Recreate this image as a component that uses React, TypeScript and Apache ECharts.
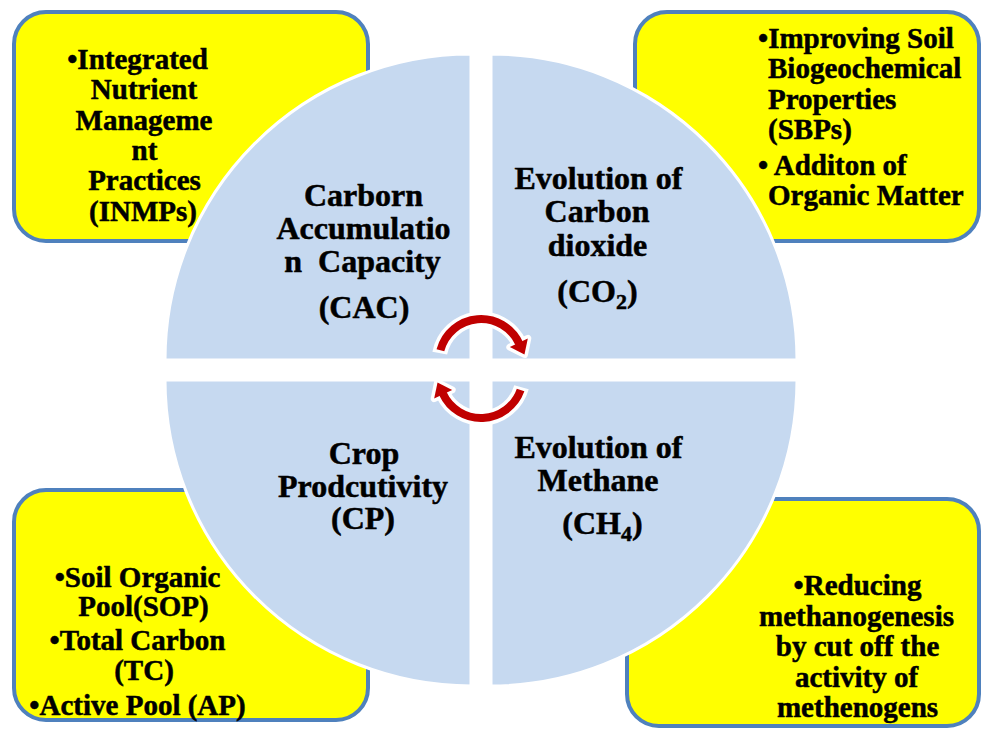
import React, { useEffect, useRef } from "react";
import * as echarts from "echarts";

// ---------- texts ----------
const inmpLines = ["•Integrated", "Nutrient", "Manageme", "nt", "Practices", "(INMPs)"];
const sbpLines = ["•Improving Soil", "Biogeochemical", "Properties", "(SBPs)", "• Additon of", "Organic Matter"];
const sopLines = ["•Soil Organic", "Pool(SOP)", "•Total Carbon", "(TC)", "•Active Pool (AP)"];
const methLines = ["•Reducing", "methanogenesis", "by cut off the", "activity of", "methenogens"];
const cacLines = ["Carborn", "Accumulatio", "n  Capacity", "(CAC)"];
const co2Lines = ["Evolution of", "Carbon", "dioxide"];
const co2Formula = ["(CO", "2", ")"];
const cpLines = ["Crop", "Prodcutivity", "(CP)"];
const ch4Lines = ["Evolution of", "Methane"];
const ch4Formula = ["(CH", "4", ")"];

// ---------- layout ----------
const FONT = "Liberation Serif, Times New Roman, serif";
const BOX_FS = 29;
const QUAD_FS = 32;
const SUB_FS = 22;
const YELLOW = "#ffff00";
const BORDER = "#4f81bd";
const QUAD = "#c6d9f0";
const RED = "#c00000";

const boxRects = [
  { x: 14, y: 12, w: 354, h: 229 },
  { x: 635, y: 12, w: 344, h: 229 },
  { x: 14, y: 490, w: 354, h: 230 },
  { x: 627, y: 499, w: 352, h: 227 },
];

const R = 306;
const quadDefs = [
  { cx: 471, cy: 360, a0: Math.PI, a1: Math.PI * 1.5 },
  { cx: 491, cy: 360, a0: Math.PI * 1.5, a1: Math.PI * 2 },
  { cx: 491, cy: 380, a0: 0, a1: Math.PI * 0.5 },
  { cx: 471, cy: 380, a0: Math.PI * 0.5, a1: Math.PI },
];

const blocks = [
  { lines: inmpLines, xs: [137.5, 144, 144, 144.5, 144.5, 143], bl: [68.5, 99, 129.5, 159.5, 190, 220.5], fs: BOX_FS, align: "center" },
  { lines: sbpLines, xs: [758, 768, 768, 768, 758, 768], bl: [47.5, 78, 108.5, 139, 174.5, 205], fs: BOX_FS, align: "left" },
  { lines: sopLines, xs: [137.5, 143.5, 137.5, 144, 137.5], bl: [586.5, 616, 650, 680, 714.5], fs: BOX_FS, align: "center" },
  { lines: methLines, xs: [857.5, 856.5, 857.5, 856.5, 857.5], bl: [595, 625.5, 656, 686.5, 717], fs: BOX_FS, align: "center" },
  { lines: cacLines, xs: [363.5, 363.5, 362.5, 364], bl: [206, 239, 272, 318], fs: QUAD_FS, align: "center" },
  { lines: co2Lines, xs: [598.5, 597, 597.5], bl: [189, 222, 255.5], fs: QUAD_FS, align: "center" },
  { lines: cpLines, xs: [364, 363, 363], bl: [464, 497, 529], fs: QUAD_FS, align: "center" },
  { lines: ch4Lines, xs: [598.5, 598], bl: [458, 491], fs: QUAD_FS, align: "center" },
];

const formulas = [
  { parts: co2Formula, cx: 597.5, bl: 302, subDrop: 7 },
  { parts: ch4Formula, cx: 602.5, bl: 534, subDrop: 7 },
];

const arrows = [
  { cx: 481, cy: 361, r: 42, start: Math.PI + 0.26, end: Math.PI * 2 - 0.45 },
  { cx: 481, cy: 376, r: 42, start: 0.34, end: Math.PI - 0.45 },
];

function headPoints(cx: number, cy: number, r: number, phi: number) {
  const px = cx + r * Math.cos(phi);
  const py = cy + r * Math.sin(phi);
  const nx = Math.cos(phi), ny = Math.sin(phi);
  const tx = -Math.sin(phi), ty = Math.cos(phi);
  const hw = 10, len = 13;
  return [
    [px + nx * hw, py + ny * hw],
    [px + tx * len, py + ty * len],
    [px - nx * hw, py - ny * hw],
  ];
}

let measureCtx: CanvasRenderingContext2D | null = null;
function measure(text: string, fs: number) {
  if (!measureCtx) measureCtx = document.createElement("canvas").getContext("2d");
  if (!measureCtx) return text.length * fs * 0.5;
  measureCtx.font = `bold ${fs}px ${FONT}`;
  return measureCtx.measureText(text).width;
}

function textEl(text: string, x: number, baseline: number, fs: number, align: string) {
  return {
    type: "text",
    z: 5,
    x,
    y: baseline - fs * 0.33,
    style: {
      text,
      fill: "#000000",
      stroke: "#000000",
      lineWidth: 0.5,
      fontSize: fs,
      fontWeight: "bold",
      fontFamily: FONT,
      textAlign: align,
      align,
      textVerticalAlign: "middle",
      verticalAlign: "middle",
    },
  };
}

function buildGraphic() {
  const els: any[] = [];
  boxRects.forEach((b) => {
    els.push({
      type: "rect",
      z: 1,
      shape: { x: b.x, y: b.y, width: b.w, height: b.h, r: 32 },
      style: { fill: YELLOW, stroke: BORDER, lineWidth: 4 },
    });
  });
  quadDefs.forEach((q) => {
    els.push({
      type: "sector",
      z: 2,
      shape: { cx: q.cx, cy: q.cy, r0: 0, r: R, startAngle: q.a0, endAngle: q.a1, clockwise: true },
      style: { fill: QUAD, stroke: "#ffffff", lineWidth: 3 },
    });
  });
  blocks.forEach((blk) => {
    blk.lines.forEach((t, i) => {
      els.push(textEl(t, blk.xs[i], blk.bl[i], blk.fs, blk.align));
    });
  });
  formulas.forEach((f) => {
    const w0 = measure(f.parts[0], QUAD_FS);
    const w1 = measure(f.parts[1], SUB_FS);
    const w2 = measure(f.parts[2], QUAD_FS);
    let x = f.cx - (w0 + w1 + w2) / 2;
    els.push(textEl(f.parts[0], x, f.bl, QUAD_FS, "left"));
    x += w0;
    els.push(textEl(f.parts[1], x, f.bl + f.subDrop, SUB_FS, "left"));
    x += w1;
    els.push(textEl(f.parts[2], x, f.bl, QUAD_FS, "left"));
  });
  arrows.forEach((a) => {
    els.push({
      type: "arc",
      z: 6,
      shape: { cx: a.cx, cy: a.cy, r: a.r, startAngle: a.start - 0.07, endAngle: a.end, clockwise: true },
      style: { fill: null, stroke: "#ffffff", lineWidth: 15 },
    });
    els.push({
      type: "polygon",
      z: 6,
      shape: { points: headPoints(a.cx, a.cy, a.r, a.end) },
      style: { fill: "#ffffff", stroke: "#ffffff", lineWidth: 7, lineJoin: "round" },
    });
    els.push({
      type: "arc",
      z: 7,
      shape: { cx: a.cx, cy: a.cy, r: a.r, startAngle: a.start, endAngle: a.end + 0.02, clockwise: true },
      style: { fill: null, stroke: RED, lineWidth: 8 },
    });
    els.push({
      type: "polygon",
      z: 7,
      shape: { points: headPoints(a.cx, a.cy, a.r, a.end) },
      style: { fill: RED },
    });
  });
  return els;
}

export default function App() {
  const ref = useRef<HTMLDivElement>(null);
  useEffect(() => {
    document.body.style.margin = "0";
    if (!ref.current) return;
    const chart = echarts.init(ref.current, undefined, { renderer: "svg" });
    chart.setOption({
      animation: false,
      backgroundColor: "#ffffff",
      graphic: { elements: buildGraphic() },
    });
    return () => chart.dispose();
  }, []);
  return <div ref={ref} style={{ width: 982, height: 729 }} />;
}
